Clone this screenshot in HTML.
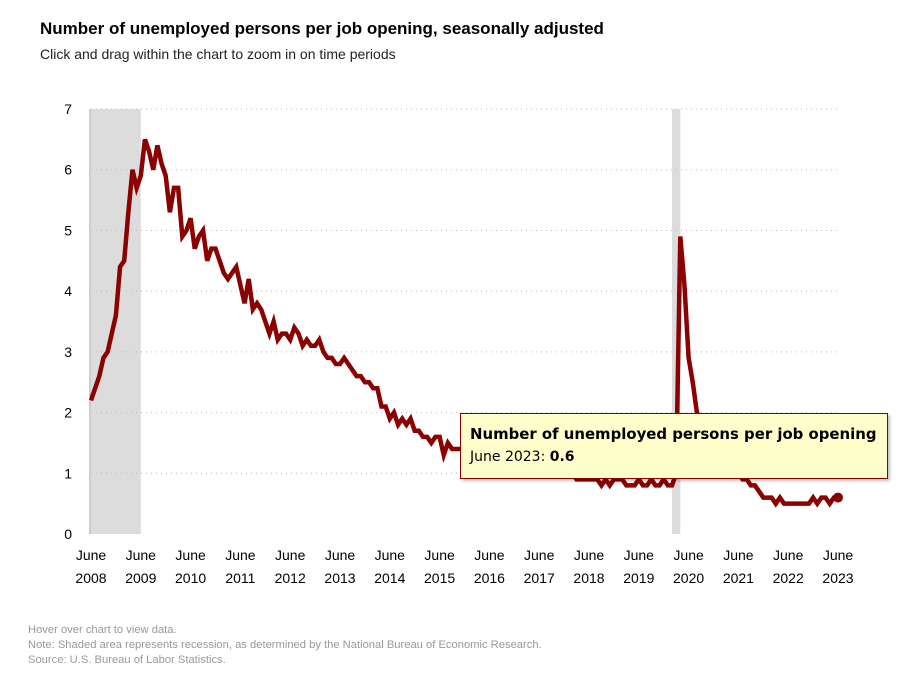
<!DOCTYPE html>
<html><head><meta charset="utf-8"><style>
body{margin:0;width:901px;height:684px;background:#fff;font-family:"Liberation Sans",sans-serif;position:relative;overflow:hidden}
.t{position:absolute;left:40px;top:19px;font-size:17px;font-weight:bold;color:#000}
.s{position:absolute;left:40px;top:46px;font-size:14px;color:#222}
.f{position:absolute;left:28px;font-size:11.2px;color:#999}
.tip{position:absolute;left:460px;top:413px;width:426px;height:64px;background:#ffffcc;border:1px solid #8b0000;box-shadow:2px 2px 3px rgba(0,0,0,.25);font-family:"DejaVu Sans",sans-serif}
</style></head><body>
<div class="t">Number of unemployed persons per job opening, seasonally adjusted</div>
<div class="s">Click and drag within the chart to zoom in on time periods</div>
<svg id="c" width="901" height="684" style="position:absolute;left:0;top:0"></svg>
<div class="tip">
<div style="position:absolute;left:9px;top:11px;font-size:14.9px;font-weight:bold">Number of unemployed persons per job opening</div>
<div style="position:absolute;left:9px;top:35px;font-size:14px">June 2023: <b>0.6</b></div>
</div>
<div class="f" style="top:624px">Hover over chart to view data.</div>
<div class="f" style="top:639px">Note: Shaded area represents recession, as determined by the National Bureau of Economic Research.</div>
<div class="f" style="top:654px">Source: U.S. Bureau of Labor Statistics.</div>
<script>
const yTicks=[0,1,2,3,4,5,6,7];
const xYears=[2008,2009,2010,2011,2012,2013,2014,2015,2016,2017,2018,2019,2020,2021,2022,2023];
const recessions=[[-6,12],[140,142]];
const values=[
2.2,2.4,2.6,2.9,3.0,3.3,3.6,
4.4,4.5,5.3,6.0,5.7,5.9,6.5,6.3,6.0,6.4,6.1,5.9,
5.3,5.7,5.7,4.9,5.0,5.2,4.7,4.9,5.0,4.5,4.7,4.7,
4.5,4.3,4.2,4.3,4.4,4.1,3.8,4.2,3.7,3.8,3.7,3.5,
3.3,3.5,3.2,3.3,3.3,3.2,3.4,3.3,3.1,3.2,3.1,3.1,
3.2,3.0,2.9,2.9,2.8,2.8,2.9,2.8,2.7,2.6,2.6,2.5,
2.5,2.4,2.4,2.1,2.1,1.9,2.0,1.8,1.9,1.8,1.9,1.7,
1.7,1.6,1.6,1.5,1.6,1.6,1.3,1.5,1.4,1.4,1.4,1.4,
1.4,1.3,1.4,1.4,1.3,1.4,1.4,1.4,1.3,1.4,1.4,1.3,
1.3,1.2,1.2,1.2,1.2,1.1,1.1,1.1,1.1,1.1,1.0,1.0,
1.0,1.0,0.9,0.9,0.9,0.9,0.9,0.9,0.8,0.9,0.8,0.9,
0.9,0.9,0.8,0.8,0.8,0.9,0.8,0.8,0.9,0.8,0.8,0.9,
0.8,0.8,1.0,4.9,4.1,2.9,2.5,2.0,1.9,1.8,1.6,1.6,
1.5,1.4,1.3,1.2,1.1,1.0,0.9,0.9,0.8,0.8,0.7,0.6,
0.6,0.6,0.5,0.6,0.5,0.5,0.5,0.5,0.5,0.5,0.5,0.6,
0.5,0.6,0.6,0.5,0.6,0.6];
const svg=document.getElementById('c');const NS='http://www.w3.org/2000/svg';
const x0=91,x1=838,y0=534,y7=109;
const xs=i=>x0+(x1-x0)*i/180;
const ys=v=>y0-(y0-y7)*v/7;
function mk(t,a){const e=document.createElementNS(NS,t);for(const k in a)e.setAttribute(k,a[k]);svg.appendChild(e);return e;}
recessions.forEach(r=>{const a=Math.max(x0,xs(r[0])),b=xs(r[1]);
const e=mk('rect',{x:a,y:y7,width:b-a,height:y0-y7,fill:'#dcdcdc'});

});
yTicks.forEach(v=>{
if(v>0){const g=mk('line',{x1:x0,x2:x1,y1:ys(v),y2:ys(v),stroke:'#bbb','stroke-dasharray':'1,4'});

}
const t=mk('text',{x:72,y:ys(v)+5,'text-anchor':'end','font-size':'14','font-family':'Liberation Sans, sans-serif'});t.textContent=v;

});
const ax=mk('line',{x1:x0-1,x2:x0-1,y1:y7,y2:y0,stroke:'#999'});


xYears.forEach((yr,i)=>{const x=xs(i*12);
['June',String(yr)].forEach((s,j)=>{const t=mk('text',{x:x,y:560+j*23,'text-anchor':'middle','font-size':'14','font-family':'Liberation Sans, sans-serif'});t.textContent=s;

});});
const p=mk('polyline',{points:values.map((v,i)=>xs(i)+','+ys(v)).join(' '),fill:'none',stroke:'#8b0000','stroke-width':'4.5','stroke-linejoin':'miter'});


const n=values.length-1;
const d=mk('circle',{cx:xs(n),cy:ys(values[n]),r:5,fill:'#8b0000'});


</script>
</body></html>
